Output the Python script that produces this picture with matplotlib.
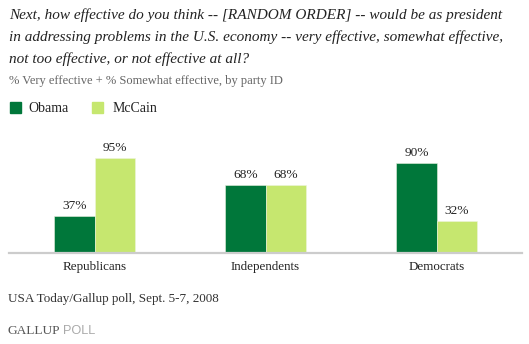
import matplotlib.pyplot as plt
import numpy as np

# data
groups = ['Republicans', 'Independents', 'Democrats']
obama = [37, 68, 90]
mccain = [95, 68, 32]
series_names = ['Obama', 'McCain']

title_lines = [
    'Next, how effective do you think -- [RANDOM ORDER] -- would be as president',
    'in addressing problems in the U.S. economy -- very effective, somewhat effective,',
    'not too effective, or not effective at all?',
]
subtitle = '% Very effective + % Somewhat effective, by party ID'
source = 'USA Today/Gallup poll, Sept. 5-7, 2008'

dark = '#00773A'
light = '#C6E76F'
W, H = 529, 344

plt.rcParams['font.family'] = ['Liberation Serif']
fig = plt.figure(figsize=(W / 100, H / 100), dpi=100)
renderer = fig.canvas.get_renderer()


def fx(px):
    return px / W


def fy(py):
    return 1 - py / H


def fit(t, width_px):
    # scale the font so the text spans roughly the same width as in the reference
    w = t.get_window_extent(renderer).width
    t.set_fontsize(t.get_fontsize() * width_px / w)


# axes: baseline at y=252.7px, 1px per percent
ax = fig.add_axes([fx(9), fy(252.7), fx(513), 100 / H])
x = np.arange(len(groups))
bw = 0.2346
b1 = ax.bar(x - bw / 2, obama, bw, color=dark, edgecolor='#e8f0e0', linewidth=0.4)
b2 = ax.bar(x + bw / 2, mccain, bw, color=light, edgecolor='#eef5dd', linewidth=0.4)
ax.set_xlim(-0.5, 2.5)
ax.set_ylim(0, 100)
for s in ['top', 'right', 'left']:
    ax.spines[s].set_visible(False)
ax.spines['bottom'].set_color('#cccccc')
ax.spines['bottom'].set_linewidth(1.6)
ax.set_yticks([])
ax.set_xticks(x)
ax.set_xticklabels(groups, fontsize=9.4, color='#222222')
ax.tick_params(axis='x', length=0, pad=6)
for bars in (b1, b2):
    for b in bars:
        ax.annotate(f'{int(b.get_height())}%', (b.get_x() + b.get_width() / 2, b.get_height()),
                    xytext=(0, 2.5), textcoords='offset points', ha='center', va='bottom',
                    fontsize=9.6, color='#222222')

# title
for i, line in enumerate(title_lines):
    t = fig.text(fx(9), fy(19 + 22 * i), line, fontsize=12, style='italic',
                 color='#222222', va='baseline')
    if i == 0:
        fit(t, 492)
        tsize = t.get_fontsize()
    else:
        t.set_fontsize(tsize)
st = fig.text(fx(9), fy(84), subtitle, fontsize=9.5, color='#666666', va='baseline')
fit(st, 277)

# legend
fig.patches.append(plt.Rectangle((fx(10), fy(113)), fx(11), 11 / H, color=dark,
                                 transform=fig.transFigure, figure=fig))
fig.text(fx(28), fy(111.5), series_names[0], fontsize=10, color='#222222', va='baseline')
fig.patches.append(plt.Rectangle((fx(92), fy(113)), fx(11), 11 / H, color=light,
                                 transform=fig.transFigure, figure=fig))
fig.text(fx(113), fy(111.5), series_names[1], fontsize=10, color='#222222', va='baseline')

# footer
src = fig.text(fx(8), fy(302), source, fontsize=10, color='#333333', va='baseline')
fit(src, 211)
g = fig.text(fx(7), fy(334), 'GALLUP', fontsize=9.6, color='#555555', va='baseline')
gx = g.get_window_extent(renderer).x1
fig.text(fx(gx + 3), fy(334), 'POLL', fontsize=9.2, color='#aaaaaa', va='baseline',
         family='Liberation Sans')

fig.savefig('out.png', dpi=100)
